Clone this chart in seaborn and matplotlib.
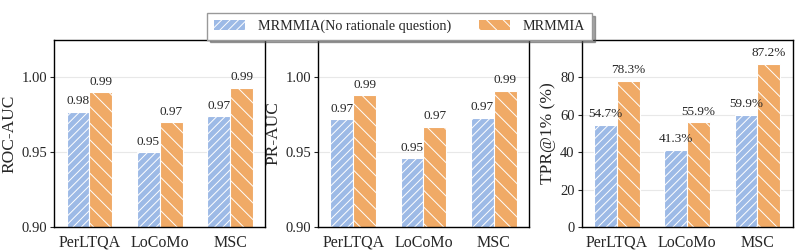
import pandas as pd
import matplotlib.pyplot as plt
import seaborn as sns

datasets = ['PerLTQA', 'LoCoMo', 'MSC']
methods = ['MRMMIA(No rationale question)', 'MRMMIA']

roc_base = [0.977, 0.950, 0.974]
roc_full = [0.990, 0.970, 0.993]
pr_base = [0.972, 0.946, 0.973]
pr_full = [0.988, 0.967, 0.991]
tpr_base = [54.7, 41.3, 59.9]
tpr_full = [78.3, 55.9, 87.2]

colors = ['#9dbae6', '#f0aa66']
hatches = ['////', '\\\\']

sns.set_style('white')
plt.rcParams['font.family'] = ['Liberation Serif', 'DejaVu Serif']
plt.rcParams['hatch.color'] = 'white'
plt.rcParams['hatch.linewidth'] = 0.7

panels = [
    ('ROC-AUC', roc_base, roc_full, (0.90, 1.025), [0.90, 0.95, 1.00], '{:.2f}'),
    ('PR-AUC', pr_base, pr_full, (0.90, 1.025), [0.90, 0.95, 1.00], '{:.2f}'),
    ('TPR@1% (%)', tpr_base, tpr_full, (0, 100), [0, 20, 40, 60, 80], '{:.1f}%'),
]

fig, axes = plt.subplots(1, 3, figsize=(7.99, 2.5), dpi=100)

for ax, (ylabel, base, full, ylim, yticks, fmt) in zip(axes, panels):
    df = pd.DataFrame({
        'Dataset': datasets * 2,
        'Method': [methods[0]] * 3 + [methods[1]] * 3,
        'Value': base + full,
    })
    sns.barplot(data=df, x='Dataset', y='Value', hue='Method', hue_order=methods,
                palette=colors, saturation=1, width=0.65, edgecolor='white',
                linewidth=0.8, ax=ax, legend=False)
    for i, bar in enumerate(ax.patches[:6]):
        bar.set_hatch(hatches[i // 3])
        h = bar.get_height()
        ax.text(bar.get_x() + bar.get_width() / 2, h + (ylim[1] - ylim[0]) * 0.025,
                fmt.format(h), ha='center', va='bottom', fontsize=9.5)
    ax.set_ylim(*ylim)
    ax.set_xlim(-0.5, 2.5)
    ax.set_yticks(yticks)
    if fmt == '{:.2f}':
        ax.set_yticklabels([f'{t:.2f}' for t in yticks])
    ax.yaxis.grid(True, color='#e8e8e8', linewidth=0.8)
    ax.set_axisbelow(True)
    ax.set_xlabel('')
    ax.set_ylabel(ylabel, fontsize=12.5, labelpad=3)
    ax.tick_params(axis='x', labelsize=11.5, bottom=False, pad=2)
    ax.tick_params(axis='y', labelsize=10.5, left=True, length=3, width=0.8, pad=2)
    for s in ax.spines.values():
        s.set_color('black')
        s.set_linewidth(1.0)

handles = [plt.Rectangle((0, 0), 1, 1, facecolor=colors[i], hatch=hatches[i],
                         edgecolor='white', linewidth=0) for i in range(2)]
fig.legend(handles, methods, loc='upper center', bbox_to_anchor=(0.5, 0.975),
           ncol=2, fontsize=10.2, frameon=True, fancybox=False, shadow=True,
           edgecolor='#999999', handlelength=2.2, columnspacing=2.0,
           handletextpad=0.9, borderpad=0.45)

fig.subplots_adjust(left=0.068, right=0.992, top=0.84, bottom=0.092, wspace=0.25)
fig.savefig('out.png', dpi=100)
